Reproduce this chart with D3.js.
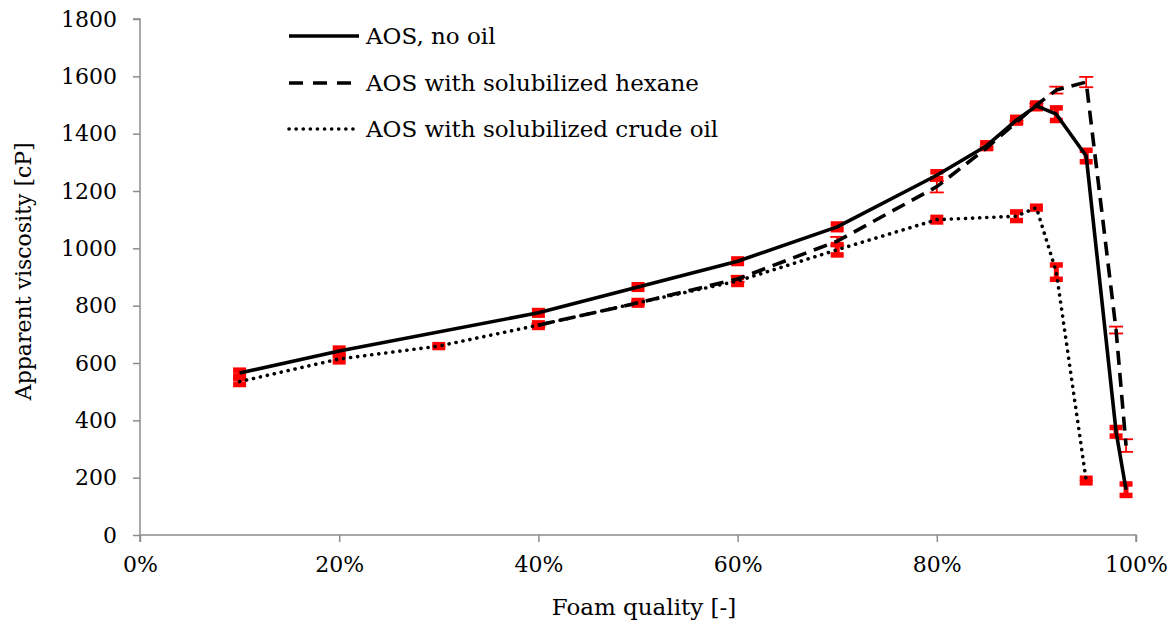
<!DOCTYPE html>
<html>
<head>
<meta charset="utf-8">
<script src="https://cdn.jsdelivr.net/npm/d3@7"></script>
<style>
  html, body { margin: 0; padding: 0; background: #fff; }
</style>
</head>
<body>
<svg id="chart" width="1174" height="630"></svg>
<script>
// Foam quality (%) and apparent viscosity (cP) with error half-widths
const noOilQuality = [10, 20, 40, 50, 60, 70, 80, 85, 88, 90, 92, 95, 98, 99];
const noOilViscosity = [565, 642, 775, 865, 955, 1075, 1255, 1358, 1447, 1497, 1468, 1322, 360, 158];
const noOilError = [10, 10, 8, 8, 8, 10, 12, 10, 10, 10, 22, 20, 15, 20];

const hexaneQuality = [40, 50, 60, 70, 80, 85, 88, 90, 92, 95, 98, 99];
const hexaneViscosity = [732, 810, 893, 1025, 1215, 1350, 1440, 1500, 1552, 1580, 715, 312];
const hexaneError = [5, 5, 10, 15, 20, 5, 5, 5, 12, 18, 12, 22];

const crudeQuality = [10, 20, 30, 40, 50, 60, 70, 80, 88, 90, 92, 95];
const crudeViscosity = [535, 614, 659, 732, 810, 886, 995, 1100, 1112, 1142, 917, 190];
const crudeError = [10, 10, 5, 8, 8, 12, 18, 8, 15, 5, 25, 8];

const yTicks = [0, 200, 400, 600, 800, 1000, 1200, 1400, 1600, 1800];
const xTicks = [0, 20, 40, 60, 80, 100];

const seriesNames = ["AOS, no oil", "AOS with solubilized hexane", "AOS with solubilized crude oil"];

const FONT = "'DejaVu Serif'";

const svg = d3.select("#chart");
const margin = { left: 140, right: 1136, top: 19, bottom: 535 };

const x = d3.scaleLinear().domain([0, 100]).range([margin.left, margin.right]);
const y = d3.scaleLinear().domain([0, 1800]).range([margin.bottom, margin.top]);

const axisColor = "#8c8c8c";

// Y axis
const yAxis = svg.append("g")
  .attr("transform", `translate(${margin.left},0)`)
  .call(d3.axisLeft(y).tickValues(yTicks).tickSize(7).tickPadding(16).tickFormat(d3.format("d")));
// X axis
const xAxis = svg.append("g")
  .attr("transform", `translate(0,${margin.bottom})`)
  .call(d3.axisBottom(x).tickValues(xTicks).tickSize(7).tickPadding(14).tickFormat(d => d + "%"));

[yAxis, xAxis].forEach(g => {
  g.attr("font-family", null).attr("font-size", null);
  g.selectAll("path").attr("stroke", axisColor).attr("stroke-width", 1.5);
  g.selectAll("line").attr("stroke", axisColor).attr("stroke-width", 1.5);
  g.selectAll("text").attr("fill", "#000").style("font-family", FONT).style("font-size", "22px");
});
xAxis.select(".domain").attr("d", `M${margin.left},0H${margin.right}V7`);
yAxis.select(".domain").attr("d", `M-7,${margin.top}H0V${margin.bottom + 7}`);

// Axis titles
svg.append("text")
  .attr("x", x(50) + 6).attr("y", 615)
  .attr("text-anchor", "middle")
  .style("font-family", FONT)
  .style("font-size", "23px")
  .text("Foam quality [-]");
svg.append("text")
  .attr("transform", `translate(31,${y(920)}) rotate(-90)`)
  .attr("text-anchor", "middle")
  .style("font-family", FONT)
  .style("font-size", "22px")
  .text("Apparent viscosity [cP]");

const red = "#ff0000";

// Error bars: thick caps that merge into squares for small errors
function errorBars(q, v, e, thick) {
  const g = svg.append("g");
  const capW = thick ? 13 : 14;
  const capSW = thick ? 5.5 : 1.8;
  q.forEach((qq, i) => {
    const cx = x(qq);
    const yTop = y(v[i] + e[i]);
    const yBot = y(v[i] - e[i]);
    g.append("line")
      .attr("x1", cx).attr("x2", cx)
      .attr("y1", yTop).attr("y2", yBot)
      .attr("stroke", red).attr("stroke-width", thick ? 5 : 1.8);
    [yTop, yBot].forEach(yy => {
      g.append("line")
        .attr("x1", cx - capW / 2).attr("x2", cx + capW / 2)
        .attr("y1", yy).attr("y2", yy)
        .attr("stroke", red).attr("stroke-width", capSW);
    });
  });
}

errorBars(hexaneQuality, hexaneViscosity, hexaneError, false);
errorBars(noOilQuality, noOilViscosity, noOilError, true);
errorBars(crudeQuality, crudeViscosity, crudeError, true);

const line = d3.line().x(d => x(d[0])).y(d => y(d[1]));

const styles = [
  { dash: null, cap: "butt" },
  { dash: "14,8", cap: "butt" },
  { dash: "0.1,7", cap: "round" }
];

const seriesData = [
  d3.zip(noOilQuality, noOilViscosity),
  d3.zip(hexaneQuality, hexaneViscosity),
  d3.zip(crudeQuality, crudeViscosity)
];

seriesData.forEach((data, i) => {
  svg.append("path")
    .datum(data)
    .attr("d", line)
    .attr("fill", "none")
    .attr("stroke", "#000")
    .attr("stroke-width", 3.6)
    .attr("stroke-linejoin", "round")
    .attr("stroke-linecap", styles[i].cap)
    .attr("stroke-dasharray", styles[i].dash);
});

// Legend
const legendY = [36, 83, 129];
seriesNames.forEach((name, i) => {
  svg.append("line")
    .attr("x1", 289).attr("x2", 359)
    .attr("y1", legendY[i]).attr("y2", legendY[i])
    .attr("stroke", "#000")
    .attr("stroke-width", 3.6)
    .attr("stroke-linecap", styles[i].cap)
    .attr("stroke-dasharray", i === 1 ? "14,10" : styles[i].dash);
  svg.append("text")
    .attr("x", 366).attr("y", legendY[i] + 8)
    .style("font-family", FONT)
    .style("font-size", "23px")
    .text(name);
});
</script>
</body>
</html>
